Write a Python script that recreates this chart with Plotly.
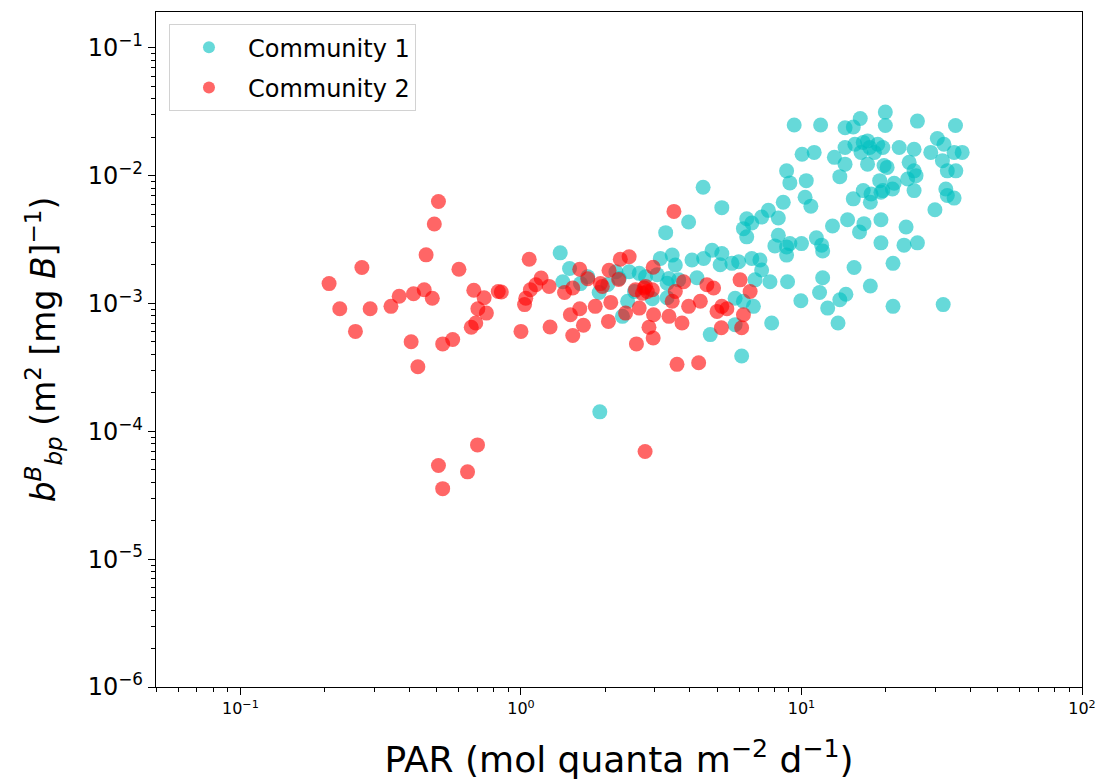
import plotly.graph_objects as go

# Community 1: PAR (mol quanta m^-2 d^-1) and b_bp^B (m^2 [mg B]^-1)
par_c1 = [
    1.38, 1.91, 1.49, 1.41, 1.90, 2.30, 2.24, 2.43, 2.64, 2.78,
    2.40, 2.18, 3.14, 3.46, 3.55, 3.37, 3.28, 3.96, 4.46, 5.20,
    4.07, 4.48, 4.80, 5.20, 5.13, 5.65, 5.97, 4.24, 3.32, 3.65,
    5.80, 6.74, 7.83, 4.73, 5.80, 6.12, 6.83, 7.72, 8.92, 6.65,
    7.11, 7.21, 6.38, 6.65, 7.21, 7.62, 8.27, 8.61, 6.38, 6.21,
    8.27, 8.04, 8.85, 9.09, 8.85, 10.0, 11.3, 11.8, 11.9, 8.85,
    9.09, 10.4, 10.3, 10.8, 9.42, 11.7, 10.05, 11.1, 13.1, 14.3,
    13.7, 14.3, 15.3, 16.2, 19.9, 19.9, 25.9, 35.4, 14.3, 15.5,
    16.6, 17.2, 17.5, 18.7, 19.5, 18.2, 16.3, 17.2, 20.2, 22.3,
    25.2, 24.2, 25.2, 25.6, 19.0, 21.4, 21.1, 23.9, 25.2, 16.6,
    17.7, 17.6, 15.3, 19.5, 30.5, 32.2, 28.9, 31.8, 35.0, 37.4,
    33.1, 35.5, 32.7, 33.1, 35.0, 29.9, 12.9, 14.6, 16.7, 16.1,
    19.2, 23.6, 23.2, 25.9, 19.2, 21.2, 15.4, 17.6, 21.2, 32.0,
    11.9, 11.6, 9.95, 12.4, 13.7, 14.4, 13.5, 19.7, 19.2, 2.04,
    2.94, 3.06, 1.73, 2.54, 1.63, 3.32, 6.21,
]
bbp_c1 = [
    2.49e-3, 1.42e-4, 1.88e-3, 1.48e-3, 1.22e-3, 7.93e-4, 1.57e-3, 1.77e-3, 1.72e-3, 1.62e-3,
    1.04e-3, 1.77e-3, 2.25e-3, 2.39e-3, 2.00e-3, 1.57e-3, 3.58e-3, 4.34e-3, 8.11e-3, 5.62e-3,
    2.19e-3, 2.25e-3, 2.61e-3, 2.46e-3, 2.01e-3, 2.06e-3, 2.12e-3, 1.59e-3, 1.44e-3, 1.53e-3,
    1.10e-3, 9.50e-4, 7.03e-4, 5.71e-4, 6.83e-4, 3.88e-4, 1.53e-3, 1.48e-3, 1.48e-3, 2.25e-3,
    2.19e-3, 1.83e-3, 4.60e-3, 4.26e-3, 4.74e-3, 5.35e-3, 4.66e-3, 6.20e-3, 3.32e-3, 3.85e-3,
    3.42e-3, 2.82e-3, 2.77e-3, 2.94e-3, 2.39e-3, 2.94e-3, 3.26e-3, 2.86e-3, 2.57e-3, 1.09e-2,
    8.77e-3, 9.14e-3, 6.78e-3, 5.77e-3, 2.49e-2, 2.49e-2, 1.47e-2, 1.52e-2, 1.39e-2, 1.23e-2,
    9.82e-3, 2.37e-2, 2.40e-2, 2.80e-2, 3.14e-2, 2.47e-2, 2.67e-2, 2.47e-2, 1.66e-2, 1.76e-2,
    1.82e-2, 1.87e-2, 1.66e-2, 1.76e-2, 1.66e-2, 1.52e-2, 1.52e-2, 1.23e-2, 1.16e-2, 1.66e-2,
    1.61e-2, 1.27e-2, 1.09e-2, 1.00e-2, 9.14e-3, 8.71e-3, 7.87e-3, 9.41e-3, 7.64e-3, 7.64e-3,
    7.19e-3, 6.20e-3, 6.58e-3, 7.64e-3, 1.95e-2, 1.76e-2, 1.52e-2, 1.31e-2, 1.52e-2, 1.52e-2,
    1.09e-2, 1.09e-2, 7.87e-3, 7.00e-3, 6.67e-3, 5.41e-3, 4.04e-3, 4.52e-3, 4.21e-3, 3.62e-3,
    4.52e-3, 3.96e-3, 2.86e-3, 2.98e-3, 2.98e-3, 2.06e-3, 1.91e-3, 1.37e-3, 9.50e-4, 9.80e-4,
    1.59e-3, 1.22e-3, 1.05e-3, 9.20e-4, 1.07e-3, 1.18e-3, 7.03e-4, 1.20e-2, 7.42e-3, 1.41e-3,
    1.09e-3, 1.68e-3, 1.62e-3, 1.24e-3, 1.43e-3, 1.11e-3, 1.04e-3,
]

# Community 2
par_c2 = [
    0.207, 0.226, 0.257, 0.271, 0.290, 0.344, 0.368, 0.414, 0.452, 0.483,
    0.459, 0.491, 0.508, 0.601, 0.406, 0.429, 0.526, 0.571, 0.679, 0.739,
    0.702, 0.753, 0.665, 0.690, 0.851, 0.830, 1.07, 1.18, 1.13, 1.08,
    1.04, 1.03, 1.00, 1.26, 1.27, 1.43, 1.53, 1.50, 1.62, 1.67,
    1.53, 1.62, 1.73, 1.92, 1.84, 2.05, 2.09, 2.06, 2.26, 2.43,
    2.36, 2.58, 2.64, 2.56, 2.75, 2.82, 2.71, 2.86, 2.96, 2.97,
    2.96, 2.78, 2.94, 2.77, 3.51, 3.60, 4.30, 3.46, 3.55, 3.37,
    3.80, 3.96, 4.36, 3.75, 4.60, 4.86, 5.00, 5.20, 5.42, 5.18,
    6.04, 6.56, 6.21, 6.12, 0.700, 0.508, 0.645, 0.526, 2.23, 1.95,
]
bbp_c2 = [
    1.43e-3, 9.10e-4, 6.05e-4, 1.91e-3, 9.10e-4, 9.50e-4, 1.14e-3, 1.19e-3, 1.28e-3, 1.10e-3,
    2.40e-3, 4.19e-3, 6.28e-3, 1.85e-3, 5.02e-4, 3.20e-4, 4.83e-4, 5.22e-4, 1.27e-3, 1.11e-3,
    9.10e-4, 8.41e-4, 6.52e-4, 7.03e-4, 1.23e-3, 1.24e-3, 2.22e-3, 1.58e-3, 1.40e-3, 1.28e-3,
    1.10e-3, 9.80e-4, 6.05e-4, 1.36e-3, 6.55e-4, 1.22e-3, 1.32e-3, 8.17e-4, 9.10e-4, 6.75e-4,
    5.61e-4, 1.85e-3, 1.56e-3, 1.43e-3, 9.50e-4, 7.24e-4, 1.02e-3, 1.82e-3, 2.22e-3, 2.32e-3,
    8.41e-4, 4.83e-4, 9.20e-4, 1.28e-3, 1.32e-3, 1.24e-3, 1.20e-3, 6.52e-4, 5.37e-4, 8.17e-4,
    1.92e-3, 1.36e-3, 1.28e-3, 6.95e-5, 5.25e-3, 3.34e-4, 3.44e-4, 1.04e-3, 1.24e-3, 7.93e-4,
    1.48e-3, 9.50e-4, 1.04e-3, 7.03e-4, 1.40e-3, 1.32e-3, 8.67e-4, 9.50e-4, 9.10e-4, 6.45e-4,
    1.53e-3, 1.24e-3, 8.17e-4, 6.45e-4, 7.83e-5, 5.41e-5, 4.82e-5, 3.56e-5, 1.54e-3, 1.36e-3,
]

x_tick_vals = [0.1, 1, 10, 100]
x_tick_text = ["10<sup>−1</sup>", "10<sup>0</sup>", "10<sup>1</sup>", "10<sup>2</sup>"]
y_tick_vals = [1e-6, 1e-5, 1e-4, 1e-3, 1e-2, 1e-1]
y_tick_text = ["10<sup>−6</sup>", "10<sup>−5</sup>", "10<sup>−4</sup>",
               "10<sup>−3</sup>", "10<sup>−2</sup>", "10<sup>−1</sup>"]

x_minor = [m * 10.0 ** e for e in range(-2, 2) for m in range(2, 10)]
y_minor = [m * 10.0 ** e for e in range(-6, 0) for m in range(2, 10)]

FONT = "DejaVu Sans"

fig = go.Figure()
fig.add_trace(go.Scatter(
    x=par_c1, y=bbp_c1, mode="markers", name="Community 1", legendgroup="c1",
    marker=dict(size=15, color="rgb(0,191,191)", opacity=0.6, line=dict(width=0)),
))
fig.add_trace(go.Scatter(
    x=par_c2, y=bbp_c2, mode="markers", name="Community 2", legendgroup="c2",
    marker=dict(size=15, color="rgb(255,0,0)", opacity=0.6, line=dict(width=0)),
))

axis_common = dict(
    type="log", showgrid=False, zeroline=False,
    showline=True, linecolor="black", linewidth=1.3, mirror=True,
    ticks="outside", ticklen=7, tickwidth=1.2, tickcolor="black",
)

fig.update_xaxes(
    **axis_common,
    range=[-1.30103, 2],
    tickvals=x_tick_vals, ticktext=x_tick_text,
    tickfont=dict(family=FONT, size=16, color="black"),
    minor=dict(tickvals=x_minor, ticks="outside", ticklen=4, tickwidth=1, tickcolor="black"),
    title=dict(text="PAR (mol quanta m<sup>−2</sup> d<sup>−1</sup>)",
               font=dict(family=FONT, size=36, color="black"), standoff=29),
)
fig.update_yaxes(
    **axis_common,
    range=[-6, -0.72],
    tickvals=y_tick_vals, ticktext=y_tick_text,
    tickfont=dict(family=FONT, size=24, color="black"),
    minor=dict(tickvals=y_minor, ticks="outside", ticklen=4, tickwidth=1, tickcolor="black"),
    title=dict(text="<i>b</i><sup><i>B</i></sup><sub><i>bp</i></sub> (m<sup>2</sup> [mg <i>B</i>]<sup>−1</sup>)",
               font=dict(family=FONT, size=33, color="black"), standoff=22),
)

fig.update_layout(
    width=1107, height=784,
    margin=dict(l=156, r=24, t=11, b=96),
    paper_bgcolor="white", plot_bgcolor="white",
    font=dict(family=FONT, color="black"),
    legend=dict(
        x=0.014, y=0.982, xanchor="left", yanchor="top",
        bgcolor="rgba(255,255,255,0.8)", bordercolor="rgb(210,210,210)", borderwidth=1,
        font=dict(family=FONT, size=24, color="black"),
        itemsizing="constant", itemwidth=68, tracegroupgap=6,
    ),
)

fig.write_html("out.html")
